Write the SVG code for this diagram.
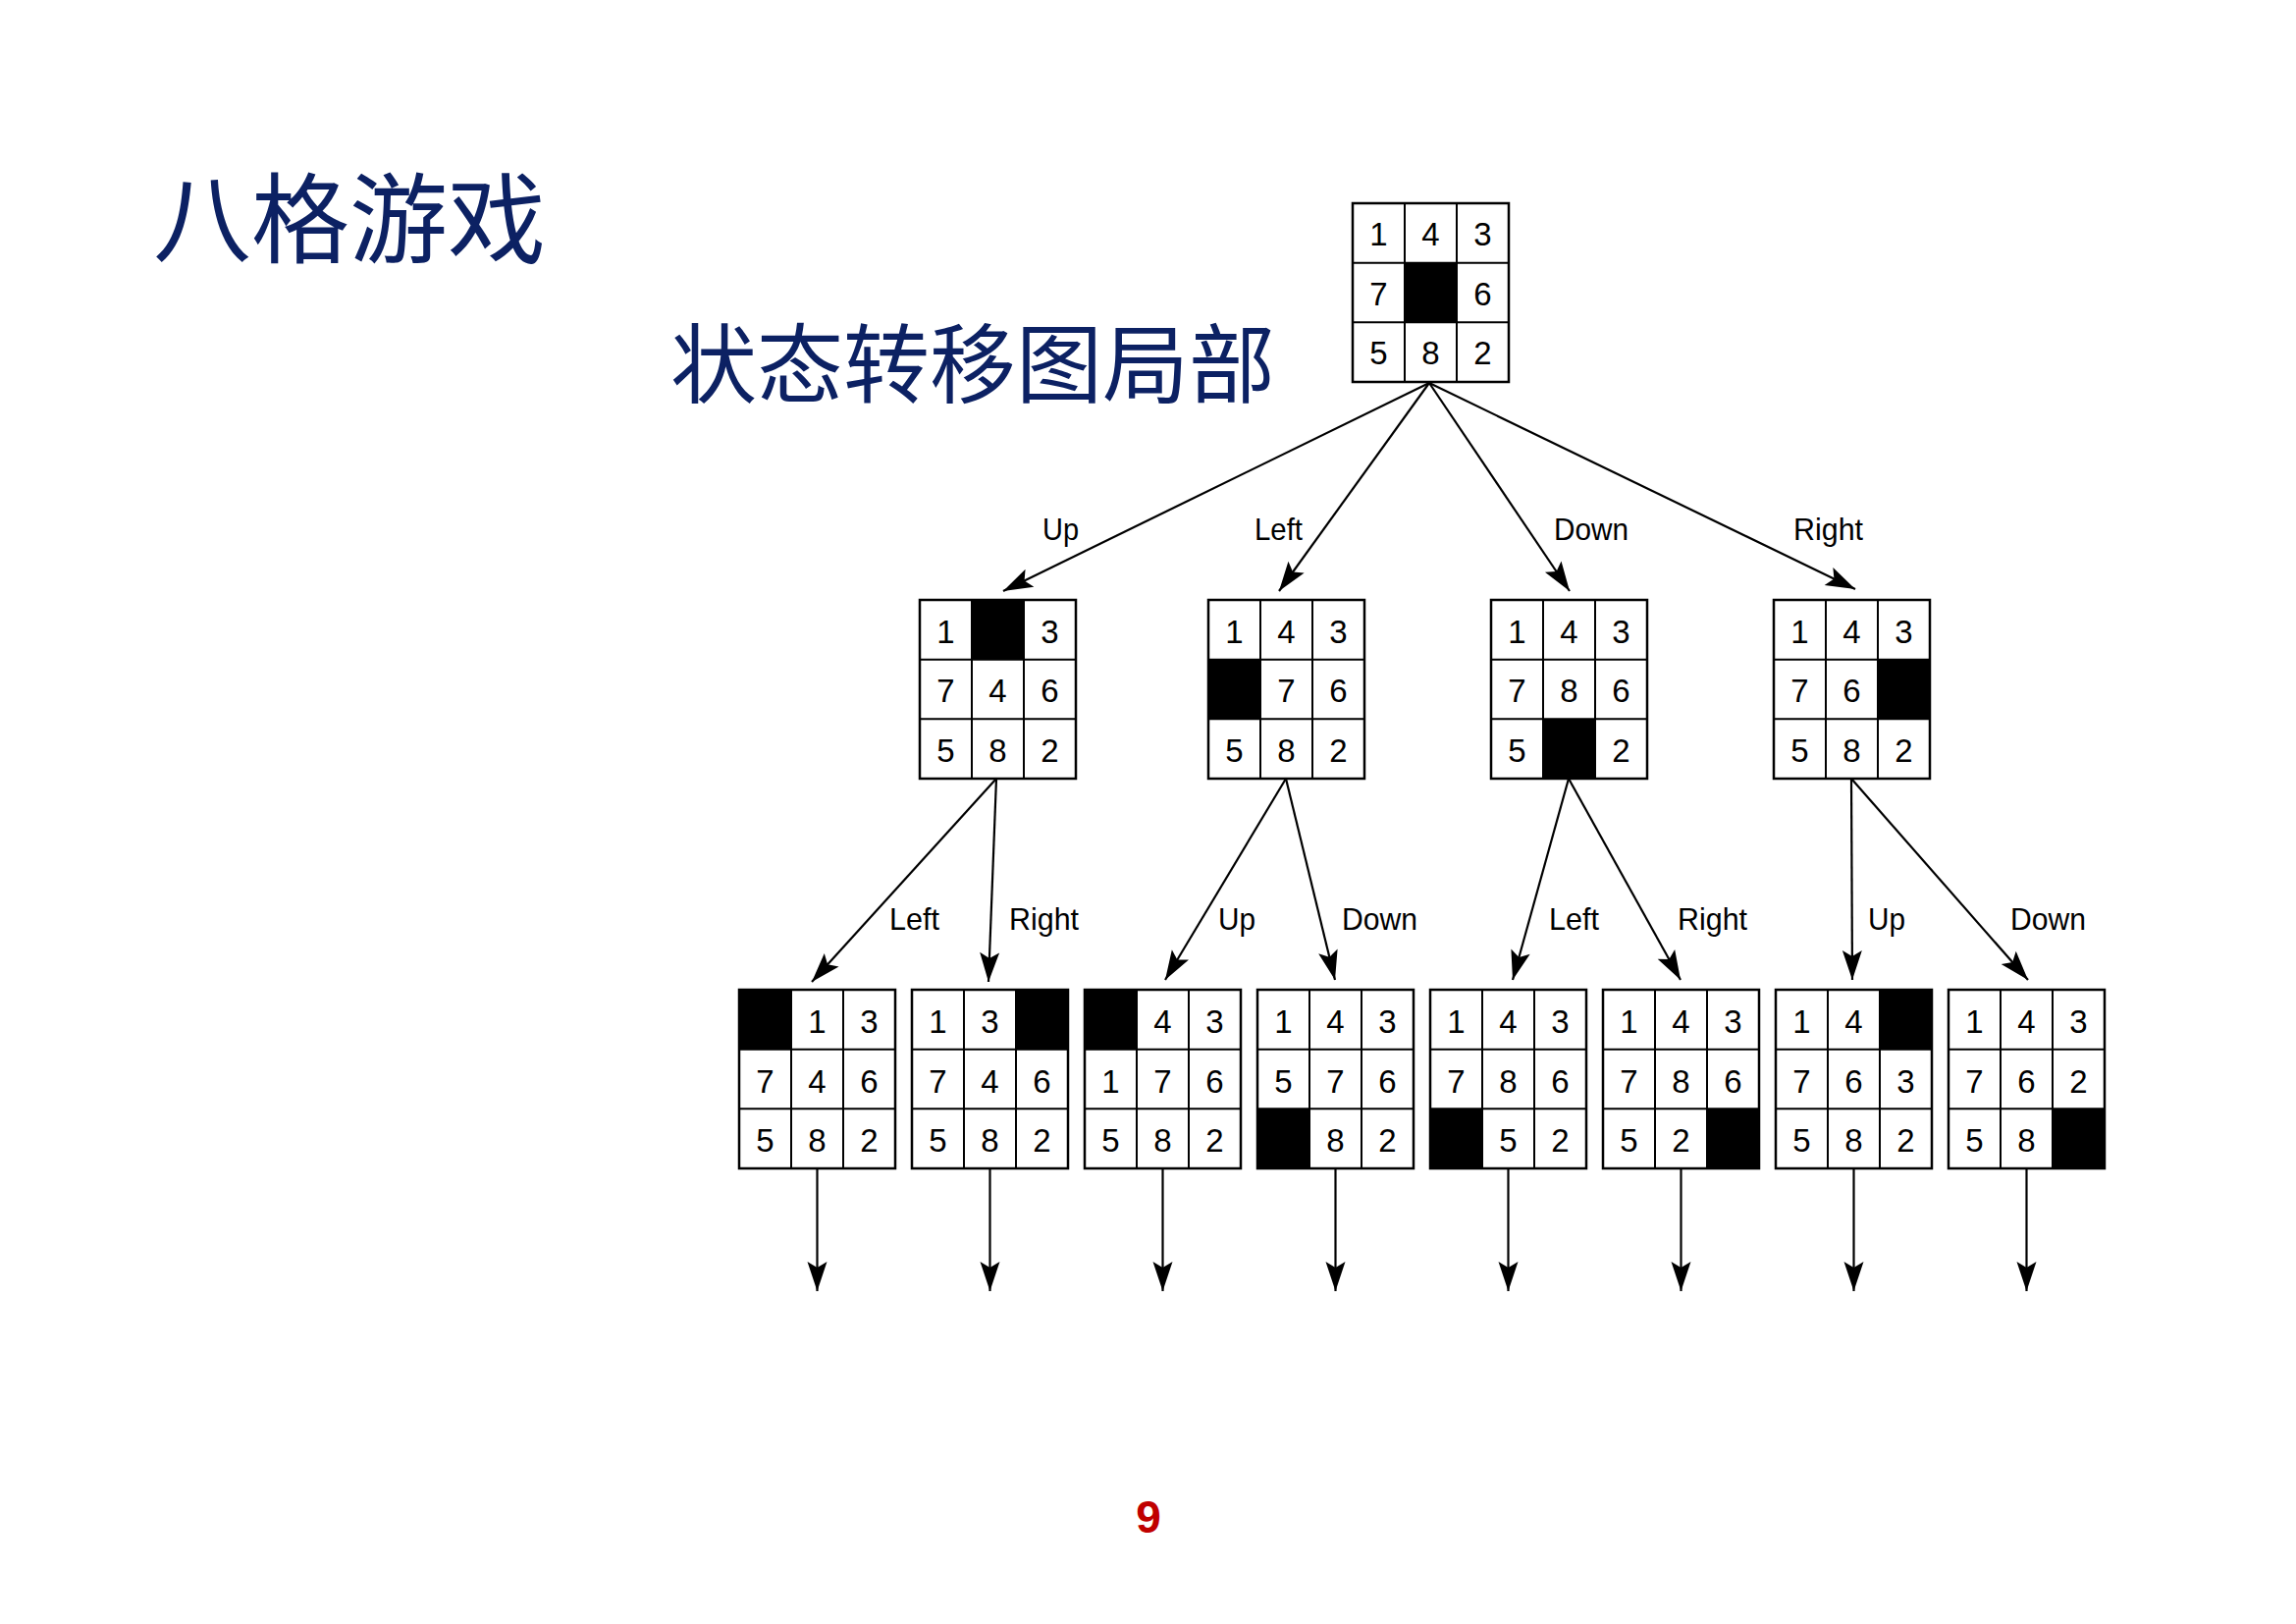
<svg xmlns="http://www.w3.org/2000/svg" xmlns:xlink="http://www.w3.org/1999/xlink" width="2339" height="1654" viewBox="0 0 2339 1654">
<style>
.frame{fill:none;stroke:#000;stroke-width:2.5}
.inner{fill:none;stroke:#000;stroke-width:2}
.blank{fill:#000}
.d{font-family:"Liberation Sans",Arial,sans-serif;font-size:33px;fill:#000;text-anchor:middle}
.lbl{font-family:"Liberation Sans",Arial,sans-serif;font-size:32px;fill:#000}
.conn{stroke:#000;stroke-width:2.2;fill:none;marker-end:url(#ah)}
.title{font-family:"Noto Sans CJK SC",sans-serif;fill:#0c2163}
.pg{font-family:"Liberation Sans",Arial,sans-serif;font-weight:bold;font-size:46px;fill:#c00000;text-anchor:middle}
</style>
<defs>
<marker id="ah" viewBox="-32 -11 34 22" refX="0" refY="0" markerWidth="34" markerHeight="22" markerUnits="userSpaceOnUse" orient="auto">
<path d="M0,0 L-30,-10 L-24,0 L-30,10 Z" fill="#000"/>
</marker>
<g id="grid">
<path class="inner" d="M53,0V182M106,0V182M0,60.67H159M0,121.33H159"/>
<rect class="frame" x="0" y="0" width="159" height="182"/>
</g>
</defs>
<rect width="2339" height="1654" fill="#fff"/>

<text class="title" x="156" y="260" font-size="100">八格游戏</text>
<text class="title" x="683" y="403" font-size="88">状态转移图局部</text>
<text class="pg" x="1170" y="1561">9</text>

<g id="connectors">
<line class="conn" x1="1456" y1="390" x2="1022" y2="602"/>
<line class="conn" x1="1456" y1="390" x2="1303" y2="602"/>
<line class="conn" x1="1456" y1="390" x2="1599" y2="602"/>
<line class="conn" x1="1456" y1="390" x2="1890" y2="600"/>
<line class="conn" x1="1015" y1="793" x2="827" y2="1000"/>
<line class="conn" x1="1015" y1="793" x2="1007" y2="1000"/>
<line class="conn" x1="1310" y1="793" x2="1187" y2="998"/>
<line class="conn" x1="1310" y1="793" x2="1360" y2="998"/>
<line class="conn" x1="1598" y1="793" x2="1541" y2="998"/>
<line class="conn" x1="1598" y1="793" x2="1712" y2="998"/>
<line class="conn" x1="1886" y1="793" x2="1887" y2="998"/>
<line class="conn" x1="1886" y1="793" x2="2066" y2="998"/>
<line class="conn" x1="832.5" y1="1190" x2="832.5" y2="1315"/>
<line class="conn" x1="1008.5" y1="1190" x2="1008.5" y2="1315"/>
<line class="conn" x1="1184.5" y1="1190" x2="1184.5" y2="1315"/>
<line class="conn" x1="1360.5" y1="1190" x2="1360.5" y2="1315"/>
<line class="conn" x1="1536.5" y1="1190" x2="1536.5" y2="1315"/>
<line class="conn" x1="1712.5" y1="1190" x2="1712.5" y2="1315"/>
<line class="conn" x1="1888.5" y1="1190" x2="1888.5" y2="1315"/>
<line class="conn" x1="2064.5" y1="1190" x2="2064.5" y2="1315"/>
<text class="lbl" x="1062" y="550" textLength="37" lengthAdjust="spacingAndGlyphs">Up</text>
<text class="lbl" x="1278" y="550" textLength="49" lengthAdjust="spacingAndGlyphs">Left</text>
<text class="lbl" x="1583" y="550" textLength="76" lengthAdjust="spacingAndGlyphs">Down</text>
<text class="lbl" x="1827" y="550" textLength="71" lengthAdjust="spacingAndGlyphs">Right</text>
<text class="lbl" x="906" y="947" textLength="51" lengthAdjust="spacingAndGlyphs">Left</text>
<text class="lbl" x="1028" y="947" textLength="71" lengthAdjust="spacingAndGlyphs">Right</text>
<text class="lbl" x="1241" y="947" textLength="38" lengthAdjust="spacingAndGlyphs">Up</text>
<text class="lbl" x="1367" y="947" textLength="77" lengthAdjust="spacingAndGlyphs">Down</text>
<text class="lbl" x="1578" y="947" textLength="51" lengthAdjust="spacingAndGlyphs">Left</text>
<text class="lbl" x="1709" y="947" textLength="71" lengthAdjust="spacingAndGlyphs">Right</text>
<text class="lbl" x="1903" y="947" textLength="38" lengthAdjust="spacingAndGlyphs">Up</text>
<text class="lbl" x="2048" y="947" textLength="77" lengthAdjust="spacingAndGlyphs">Down</text>
</g>

<g id="root" transform="translate(1378,207)">
<rect class="blank" x="53" y="60.67" width="53" height="60.67"/>
<use xlink:href="#grid"/>
<text class="d" x="26.5" y="43">1</text><text class="d" x="79.5" y="43">4</text><text class="d" x="132.5" y="43">3</text>
<text class="d" x="26.5" y="103.7">7</text><text class="d" x="132.5" y="103.7">6</text>
<text class="d" x="26.5" y="164.3">5</text><text class="d" x="79.5" y="164.3">8</text><text class="d" x="132.5" y="164.3">2</text>
</g>

<g id="l1-up" transform="translate(937,611)">
<rect class="blank" x="53" y="0" width="53" height="60.67"/>
<use xlink:href="#grid"/>
<text class="d" x="26.5" y="43.5">1</text><text class="d" x="132.5" y="43.5">3</text>
<text class="d" x="26.5" y="104.2">7</text><text class="d" x="79.5" y="104.2">4</text><text class="d" x="132.5" y="104.2">6</text>
<text class="d" x="26.5" y="164.8">5</text><text class="d" x="79.5" y="164.8">8</text><text class="d" x="132.5" y="164.8">2</text>
</g>

<g id="l1-left" transform="translate(1231,611)">
<rect class="blank" x="0" y="60.67" width="53" height="60.67"/>
<use xlink:href="#grid"/>
<text class="d" x="26.5" y="43.5">1</text><text class="d" x="79.5" y="43.5">4</text><text class="d" x="132.5" y="43.5">3</text>
<text class="d" x="79.5" y="104.2">7</text><text class="d" x="132.5" y="104.2">6</text>
<text class="d" x="26.5" y="164.8">5</text><text class="d" x="79.5" y="164.8">8</text><text class="d" x="132.5" y="164.8">2</text>
</g>

<g id="l1-down" transform="translate(1519,611)">
<rect class="blank" x="53" y="121.33" width="53" height="60.67"/>
<use xlink:href="#grid"/>
<text class="d" x="26.5" y="43.5">1</text><text class="d" x="79.5" y="43.5">4</text><text class="d" x="132.5" y="43.5">3</text>
<text class="d" x="26.5" y="104.2">7</text><text class="d" x="79.5" y="104.2">8</text><text class="d" x="132.5" y="104.2">6</text>
<text class="d" x="26.5" y="164.8">5</text><text class="d" x="132.5" y="164.8">2</text>
</g>

<g id="l1-right" transform="translate(1807,611)">
<rect class="blank" x="106" y="60.67" width="53" height="60.67"/>
<use xlink:href="#grid"/>
<text class="d" x="26.5" y="43.5">1</text><text class="d" x="79.5" y="43.5">4</text><text class="d" x="132.5" y="43.5">3</text>
<text class="d" x="26.5" y="104.2">7</text><text class="d" x="79.5" y="104.2">6</text>
<text class="d" x="26.5" y="164.8">5</text><text class="d" x="79.5" y="164.8">8</text><text class="d" x="132.5" y="164.8">2</text>
</g>

<g id="l2-a" transform="translate(753,1008)">
<rect class="blank" x="0" y="0" width="53" height="60.67"/>
<use xlink:href="#grid"/>
<text class="d" x="79.5" y="44">1</text><text class="d" x="132.5" y="44">3</text>
<text class="d" x="26.5" y="104.7">7</text><text class="d" x="79.5" y="104.7">4</text><text class="d" x="132.5" y="104.7">6</text>
<text class="d" x="26.5" y="165.3">5</text><text class="d" x="79.5" y="165.3">8</text><text class="d" x="132.5" y="165.3">2</text>
</g>

<g id="l2-b" transform="translate(929,1008)">
<rect class="blank" x="106" y="0" width="53" height="60.67"/>
<use xlink:href="#grid"/>
<text class="d" x="26.5" y="44">1</text><text class="d" x="79.5" y="44">3</text>
<text class="d" x="26.5" y="104.7">7</text><text class="d" x="79.5" y="104.7">4</text><text class="d" x="132.5" y="104.7">6</text>
<text class="d" x="26.5" y="165.3">5</text><text class="d" x="79.5" y="165.3">8</text><text class="d" x="132.5" y="165.3">2</text>
</g>

<g id="l2-c" transform="translate(1105,1008)">
<rect class="blank" x="0" y="0" width="53" height="60.67"/>
<use xlink:href="#grid"/>
<text class="d" x="79.5" y="44">4</text><text class="d" x="132.5" y="44">3</text>
<text class="d" x="26.5" y="104.7">1</text><text class="d" x="79.5" y="104.7">7</text><text class="d" x="132.5" y="104.7">6</text>
<text class="d" x="26.5" y="165.3">5</text><text class="d" x="79.5" y="165.3">8</text><text class="d" x="132.5" y="165.3">2</text>
</g>

<g id="l2-d" transform="translate(1281,1008)">
<rect class="blank" x="0" y="121.33" width="53" height="60.67"/>
<use xlink:href="#grid"/>
<text class="d" x="26.5" y="44">1</text><text class="d" x="79.5" y="44">4</text><text class="d" x="132.5" y="44">3</text>
<text class="d" x="26.5" y="104.7">5</text><text class="d" x="79.5" y="104.7">7</text><text class="d" x="132.5" y="104.7">6</text>
<text class="d" x="79.5" y="165.3">8</text><text class="d" x="132.5" y="165.3">2</text>
</g>

<g id="l2-e" transform="translate(1457,1008)">
<rect class="blank" x="0" y="121.33" width="53" height="60.67"/>
<use xlink:href="#grid"/>
<text class="d" x="26.5" y="44">1</text><text class="d" x="79.5" y="44">4</text><text class="d" x="132.5" y="44">3</text>
<text class="d" x="26.5" y="104.7">7</text><text class="d" x="79.5" y="104.7">8</text><text class="d" x="132.5" y="104.7">6</text>
<text class="d" x="79.5" y="165.3">5</text><text class="d" x="132.5" y="165.3">2</text>
</g>

<g id="l2-f" transform="translate(1633,1008)">
<rect class="blank" x="106" y="121.33" width="53" height="60.67"/>
<use xlink:href="#grid"/>
<text class="d" x="26.5" y="44">1</text><text class="d" x="79.5" y="44">4</text><text class="d" x="132.5" y="44">3</text>
<text class="d" x="26.5" y="104.7">7</text><text class="d" x="79.5" y="104.7">8</text><text class="d" x="132.5" y="104.7">6</text>
<text class="d" x="26.5" y="165.3">5</text><text class="d" x="79.5" y="165.3">2</text>
</g>

<g id="l2-g" transform="translate(1809,1008)">
<rect class="blank" x="106" y="0" width="53" height="60.67"/>
<use xlink:href="#grid"/>
<text class="d" x="26.5" y="44">1</text><text class="d" x="79.5" y="44">4</text>
<text class="d" x="26.5" y="104.7">7</text><text class="d" x="79.5" y="104.7">6</text><text class="d" x="132.5" y="104.7">3</text>
<text class="d" x="26.5" y="165.3">5</text><text class="d" x="79.5" y="165.3">8</text><text class="d" x="132.5" y="165.3">2</text>
</g>

<g id="l2-h" transform="translate(1985,1008)">
<rect class="blank" x="106" y="121.33" width="53" height="60.67"/>
<use xlink:href="#grid"/>
<text class="d" x="26.5" y="44">1</text><text class="d" x="79.5" y="44">4</text><text class="d" x="132.5" y="44">3</text>
<text class="d" x="26.5" y="104.7">7</text><text class="d" x="79.5" y="104.7">6</text><text class="d" x="132.5" y="104.7">2</text>
<text class="d" x="26.5" y="165.3">5</text><text class="d" x="79.5" y="165.3">8</text>
</g>
</svg>
